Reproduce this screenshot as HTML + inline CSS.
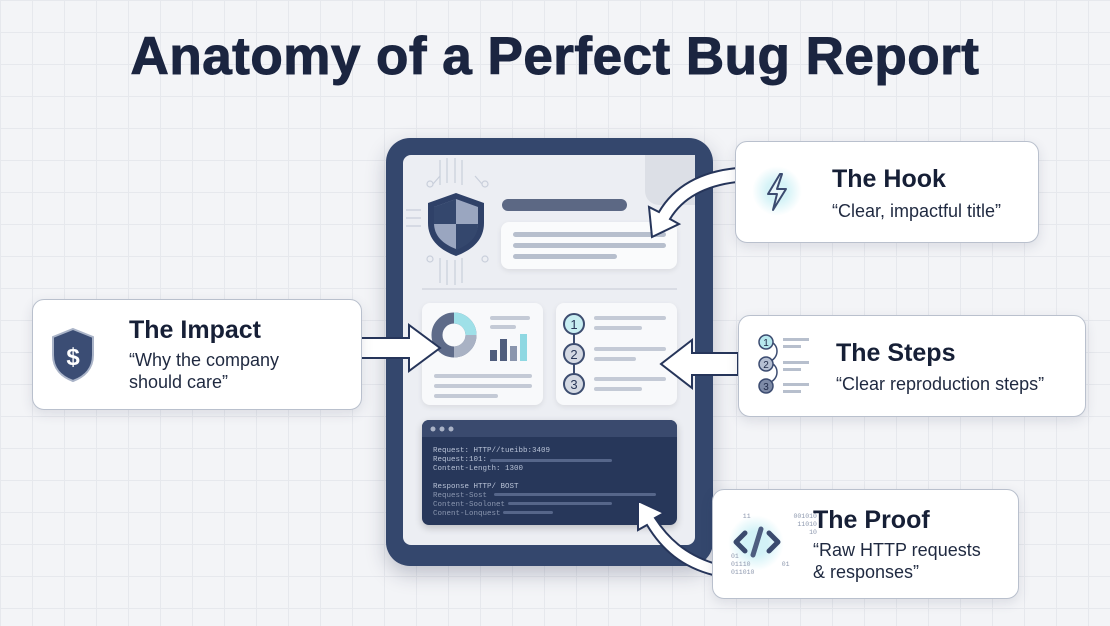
<!DOCTYPE html>
<html><head><meta charset="utf-8"><style>
body{margin:0;width:1110px;height:626px;overflow:hidden;font-family:"Liberation Sans",sans-serif;
background-color:#f3f4f7;background-image:linear-gradient(#e6e8ed 1px,transparent 1px),linear-gradient(90deg,#e6e8ed 1px,transparent 1px);background-size:32px 32px;position:relative}
.a{position:absolute}
h1{position:absolute;left:0;width:1110px;top:26px;margin:0;text-align:center;font-size:53px;font-weight:700;color:#1b2540;letter-spacing:0.5px;-webkit-text-stroke:1px #1b2540}
.card{position:absolute;background:#fff;border:1.5px solid #b9c0cd;border-radius:12px;box-shadow:0 4px 12px rgba(40,50,80,.12)}
.t{position:absolute;font-weight:700;font-size:25px;color:#161f36}
.s{position:absolute;font-size:18px;color:#1f2940;line-height:22px}
.bar{position:absolute;height:5px;border-radius:3px;background:#c4cad6}
.mono{font-family:"Liberation Mono",monospace;font-size:7.5px;color:#b8c2d6;position:absolute;white-space:pre;line-height:9px}
</style></head><body>
<h1>Anatomy of a Perfect Bug Report</h1>

<div class="a" style="left:386px;top:138px;width:327px;height:428px;background:#34476d;border-radius:24px;box-shadow:0 8px 20px rgba(30,40,70,.25)"></div>
<div class="a" style="left:403px;top:155px;width:292px;height:390px;background:#eceef3;border-radius:8px"></div>
<div class="a" style="left:645px;top:155px;width:50px;height:50px;background:#dcdfe6;border-bottom-left-radius:14px"></div>

<svg class="a" style="left:0;top:0" width="1110" height="626">
 <g stroke="#c9cfdb" fill="none" stroke-width="1.2">
  <path d="M440 185v-25M447 183v-25M455 183v-25M462 185v-25"/>
  <circle cx="430" cy="184" r="3"/><circle cx="485" cy="184" r="3"/>
  <path d="M433 184l7-8M482 184l-7-8"/>
  <path d="M440 258v25M447 260v25M455 260v25M462 258v25"/>
  <circle cx="430" cy="259" r="3"/><circle cx="485" cy="259" r="3"/>
  <path d="M406 210h15M406 218h15M406 226h15"/>
  <path d="M422 289h255" stroke="#cdd2dc"/>
 </g>
 <path d="M456 193l28 10v20c0 17-12 27-28 33c-16-6-28-16-28-33v-20z" fill="#2f4168"/>
 <path d="M456 199l22 8v16c0 13-9 21-22 26c-13-5-22-13-22-26v-16z" fill="#9aa6c0"/>
 <path d="M456 199v25h-22v-17zM456 224h22c0 13-9 21-22 26z" fill="#34476d"/>
</svg>

<div class="a" style="left:502px;top:199px;width:125px;height:12px;background:#5c6884;border-radius:6px"></div>
<div class="a" style="left:501px;top:222px;width:176px;height:47px;background:#fafbfc;border-radius:8px;box-shadow:0 2px 6px rgba(0,0,0,.08)"></div>
<div class="bar" style="left:513px;top:232px;width:153px;background:#b7bfcd"></div>
<div class="bar" style="left:513px;top:243px;width:153px;background:#b7bfcd"></div>
<div class="bar" style="left:513px;top:254px;width:104px;background:#b7bfcd"></div>

<div class="a" style="left:422px;top:303px;width:121px;height:102px;background:#f8f9fb;border-radius:8px;box-shadow:0 2px 6px rgba(0,0,0,.08)"></div>
<svg class="a" style="left:422px;top:303px" width="121" height="102">
 <circle cx="32" cy="32" r="17" fill="none" stroke="#5e6b89" stroke-width="11"/>
 <path d="M32 15a17 17 0 0 1 17 17" fill="none" stroke="#9fe0e8" stroke-width="11"/>
 <path d="M49 32a17 17 0 0 1 -17 17" fill="none" stroke="#a9b2c4" stroke-width="11"/>
 <rect x="68" y="47" width="7" height="11" fill="#4f5d7d"/><rect x="78" y="36" width="7" height="22" fill="#4f5d7d"/>
 <rect x="88" y="43" width="7" height="15" fill="#8a95ad"/><rect x="98" y="31" width="7" height="27" fill="#8fd8e2"/>
 <rect x="68" y="13" width="40" height="4" rx="2" fill="#c4cad6"/><rect x="68" y="22" width="26" height="4" rx="2" fill="#c4cad6"/>
 <rect x="12" y="71" width="98" height="4" rx="2" fill="#c4cad6"/><rect x="12" y="81" width="98" height="4" rx="2" fill="#c4cad6"/><rect x="12" y="91" width="64" height="4" rx="2" fill="#c4cad6"/>
</svg>

<div class="a" style="left:556px;top:303px;width:121px;height:102px;background:#f8f9fb;border-radius:8px;box-shadow:0 2px 6px rgba(0,0,0,.08)"></div>
<svg class="a" style="left:556px;top:303px" width="121" height="102">
 <path d="M18 21v60" stroke="#3d4d70" stroke-width="2"/>
 <circle cx="18" cy="21" r="10" fill="#c8eef2" stroke="#3d4d70" stroke-width="2"/>
 <circle cx="18" cy="51" r="10" fill="#d4d9e3" stroke="#3d4d70" stroke-width="2"/>
 <circle cx="18" cy="81" r="10" fill="#d4d9e3" stroke="#3d4d70" stroke-width="2"/>
 <g font-family="Liberation Sans" font-size="13" fill="#2a3859" text-anchor="middle"><text x="18" y="26">1</text><text x="18" y="56">2</text><text x="18" y="86">3</text></g>
 <g fill="#c4cad6"><rect x="38" y="13" width="72" height="4" rx="2"/><rect x="38" y="23" width="48" height="4" rx="2"/>
 <rect x="38" y="44" width="72" height="4" rx="2"/><rect x="38" y="54" width="42" height="4" rx="2"/>
 <rect x="38" y="74" width="72" height="4" rx="2"/><rect x="38" y="84" width="48" height="4" rx="2"/></g>
</svg>

<div class="a" style="left:422px;top:420px;width:255px;height:105px;background:#27375a;border-radius:7px;overflow:hidden;box-shadow:0 3px 8px rgba(0,0,0,.2)">
 <div style="height:17px;background:#3a4a6e"></div>
</div>
<svg class="a" style="left:422px;top:420px" width="255" height="105">
 <circle cx="11" cy="9" r="2.5" fill="#aab3c6"/><circle cx="20" cy="9" r="2.5" fill="#aab3c6"/><circle cx="29" cy="9" r="2.5" fill="#aab3c6"/>
 <g fill="#56668a"><rect x="68" y="39" width="122" height="3" rx="1.5"/><rect x="72" y="73" width="162" height="3" rx="1.5"/><rect x="86" y="82" width="104" height="3" rx="1.5"/><rect x="81" y="91" width="50" height="3" rx="1.5"/></g>
</svg>
<div class="mono" style="left:433px;top:447px">Request: HTTP//tueibb:3409
Request:101:
Content-Length: 1300

Response HTTP/ BOST
<span style="color:#8b97b0">Request-Sost
Content-Soolonet
Conent-Lonquest</span></div>

<svg class="a" style="left:0;top:0" width="1110" height="626">
 <g fill="#fff" stroke="#26355a" stroke-width="2" stroke-linejoin="miter">
  <path d="M361 338h48v-13l31 23l-31 23v-13h-48z"/>
  <path d="M738 353h-46v-13l-31 24l31 24v-13h46z"/>
  <path d="M737 168c-40 4-64 20-78 44l-10-5l3 30l27-13l-9-5c12-20 33-33 67-37z"/>
  <path d="M713 563c-28-9-45-25-58-45l9-5l-26-12l0 29l9-5c15 25 35 42 66 50z"/>
 </g>
</svg>

<div class="card" style="left:735px;top:141px;width:302px;height:100px"></div>
<div class="a" style="left:752px;top:166px;width:50px;height:50px;border-radius:50%;background:radial-gradient(#d6f3f7 30%,rgba(220,245,250,0) 70%)"></div>
<svg class="a" style="left:762px;top:172px" width="30" height="40"><path d="M18 2l-12 20h9l-4 16l13-21h-9l5-15z" fill="#e7f6fa" stroke="#3b4b70" stroke-width="2" stroke-linejoin="round"/></svg>
<div class="t" style="left:832px;top:165px">The Hook</div>
<div class="s" style="left:832px;top:200px">“Clear, impactful title”</div>

<div class="card" style="left:32px;top:299px;width:328px;height:109px"></div>
<svg class="a" style="left:50px;top:327px" width="46" height="56"><path d="M23 2l20 8v18c0 14-9 22-20 26c-11-4-20-12-20-26v-18z" fill="#3b4d74" stroke="#aab4c8" stroke-width="2"/><text x="23" y="38" text-anchor="middle" font-family="Liberation Sans" font-size="24" font-weight="700" fill="#fff">$</text></svg>
<div class="t" style="left:129px;top:316px">The Impact</div>
<div class="s" style="left:129px;top:349px">“Why the company<br>should care”</div>

<div class="card" style="left:738px;top:315px;width:346px;height:100px"></div>
<svg class="a" style="left:752px;top:331px" width="60" height="70">
 <path d="M16 10c12 2 12 18 0 21M16 31c12 2 12 18 0 21" fill="none" stroke="#3b4b70" stroke-width="1.5"/>
 <circle cx="14" cy="11" r="7" fill="#b7e8ee" stroke="#3b4b70" stroke-width="1.5"/>
 <circle cx="14" cy="33" r="7" fill="#b5bfd2" stroke="#3b4b70" stroke-width="1.5"/>
 <circle cx="14" cy="55" r="7" fill="#7d8aa6" stroke="#3b4b70" stroke-width="1.5"/>
 <g font-family="Liberation Sans" font-size="10" fill="#1f2a48" text-anchor="middle"><text x="14" y="15">1</text><text x="14" y="37">2</text><text x="14" y="59">3</text></g>
 <g fill="#b7bfcd"><rect x="31" y="7" width="26" height="3"/><rect x="31" y="14" width="18" height="3"/><rect x="31" y="30" width="26" height="3"/><rect x="31" y="37" width="18" height="3"/><rect x="31" y="52" width="26" height="3"/><rect x="31" y="59" width="18" height="3"/></g>
</svg>
<div class="t" style="left:836px;top:339px">The Steps</div>
<div class="s" style="left:836px;top:373px">“Clear reproduction steps”</div>

<div class="card" style="left:712px;top:489px;width:305px;height:108px"></div>
<div class="a" style="left:728px;top:515px;width:56px;height:56px;border-radius:50%;background:radial-gradient(#d2f2f7 30%,rgba(220,245,250,0) 70%)"></div>
<svg class="a" style="left:732px;top:524px" width="50" height="36"><g fill="none" stroke="#3a4a6e" stroke-width="5" stroke-linecap="round" stroke-linejoin="round"><path d="M13 9l-9 9l9 9M37 9l9 9l-9 9"/><path d="M29 5l-8 26" stroke="#4d5d80"/></g></svg>
<div class="mono" style="left:735px;top:513px;font-size:6.5px;color:#8d98ae;line-height:8px">  11           001010
                11010
                   10</div>
<div class="mono" style="left:731px;top:553px;font-size:6.5px;color:#8d98ae;line-height:8px">01
01110        01
011010</div>
<div class="t" style="left:813px;top:506px">The Proof</div>
<div class="s" style="left:813px;top:539px">“Raw HTTP requests<br>&amp; responses”</div>
</body></html>
